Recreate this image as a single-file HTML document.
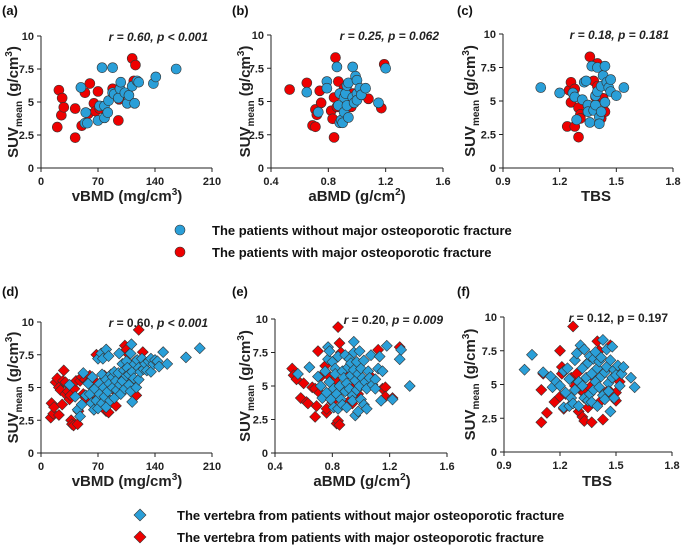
<!DOCTYPE html>
<html><head><meta charset="utf-8"><style>
html,body{margin:0;padding:0;background:#fff;}
svg{display:block;font-family:"Liberation Sans",Arial,sans-serif;}
</style></head><body>
<svg id="chart" width="685" height="547" viewBox="0 0 685 547" xmlns="http://www.w3.org/2000/svg">
<g>
 <circle cx="180" cy="230" r="5" fill="#2a9fd8" stroke="#333" stroke-width="0.6"/>
 <text x="212" y="235" font-size="13" font-weight="bold" fill="#111">The patients without major osteoporotic fracture</text>
 <circle cx="180" cy="252" r="5" fill="#ee0000" stroke="#333" stroke-width="0.6"/>
 <text x="212" y="257" font-size="13" font-weight="bold" fill="#111">The patients with major osteoporotic fracture</text>
</g>
<g>
 <path d="M140 509 L146 515 L140 521 L134 515 Z" fill="#2a9fd8" stroke="#333" stroke-width="0.6"/>
 <text x="177" y="520" font-size="13" font-weight="bold" fill="#111">The vertebra from patients without major osteoporotic fracture</text>
 <path d="M140 531 L146 537 L140 543 L134 537 Z" fill="#ee0000" stroke="#333" stroke-width="0.6"/>
 <text x="177" y="542" font-size="13" font-weight="bold" fill="#111">The vertebra from patients with major osteoporotic fracture</text>
</g>
</svg>
<script>
// ---- data (x, y pairs) ----
const aRedX=[20,22,25,26,28,42,42,50,54,58,60,65,67,70,72,88,95,96,112,114,116];
const aRedY=[3.1,5.9,4.0,5.3,4.6,4.5,2.3,3.2,5.7,4.1,6.4,4.9,4.3,5.8,4.5,6.0,3.6,5.2,8.3,6.6,7.8];
const aBlueX=[49,54,55,57,70,72,75,78,78,82,83,88,88,90,95,97,98,103,106,108,112,115,118,120,138,141,166];
const aBlueY=[6.1,3.4,4.2,3.4,3.6,4.7,7.6,4.7,3.8,4.2,5.1,5.7,7.6,5.6,5.3,6.0,6.5,5.7,4.9,5.5,6.2,4.9,6.6,6.5,6.4,6.9,7.5];

const bRedX=[0.53,0.65,0.69,0.71,0.71,0.72,0.74,0.75,0.82,0.83,0.84,0.84,0.85,0.86,0.87,0.89,0.91,0.96,0.97,1.08,1.17,1.19];
const bRedY=[5.9,6.4,3.2,3.1,4.4,4.0,5.8,4.9,4.3,3.7,5.3,2.3,8.3,4.6,6.5,3.6,6.0,4.6,5.6,5.2,4.5,7.8];
const bBlueX=[0.65,0.73,0.79,0.79,0.86,0.87,0.88,0.88,0.89,0.90,0.91,0.91,0.92,0.93,0.93,0.94,0.94,0.97,0.97,0.98,0.99,1.00,1.00,1.00,1.02,1.03,1.06,1.15,1.20];
const bBlueY=[5.7,4.2,6.5,6.0,7.6,4.7,5.6,3.4,3.6,3.4,4.2,5.3,5.6,6.2,4.7,3.8,6.4,7.6,5.3,4.9,6.9,6.6,5.6,5.1,6.0,5.5,6.0,4.9,7.5];

const cRedX=[1.24,1.25,1.26,1.26,1.27,1.28,1.28,1.30,1.30,1.31,1.31,1.36,1.38,1.38,1.39,1.40,1.40,1.42,1.43,1.44];
const cRedY=[3.1,5.8,6.4,4.9,5.6,5.9,3.1,4.5,2.3,4.0,3.7,8.3,6.5,4.6,5.3,7.8,6.1,3.7,5.2,4.2];
const cBlueX=[1.10,1.20,1.27,1.28,1.29,1.32,1.33,1.34,1.35,1.35,1.36,1.37,1.38,1.39,1.39,1.40,1.40,1.41,1.41,1.42,1.42,1.43,1.44,1.44,1.45,1.46,1.47,1.47,1.50,1.54];
const cBlueY=[6.0,5.6,5.6,5.3,3.6,5.1,6.4,6.5,4.7,4.2,3.4,7.6,4.3,4.7,5.4,7.5,5.7,3.8,3.3,4.2,6.1,6.9,7.6,4.9,6.4,6.0,6.6,5.7,5.4,6.0];

const dRedX=[12,13,15,16,18,20,22,22,24,26,27,28,30,30,33,35,36,37,38,40,41,43,45,46,48,50,52,54,55,58,60,62,65,66,68,70,72,75,78,80,83,88,92,95,103,104,105,108,116,117,120,125];
const dRedY=[2.7,3.8,3.0,3.5,5.4,5.7,2.9,5.0,4.8,3.7,5.5,6.3,4.5,5.4,4.7,4.1,4.4,2.5,2.2,2.1,4.9,5.5,2.2,3.2,5.5,5.8,4.5,5.6,4.2,5.4,5.9,4.0,4.8,5.5,7.5,4.2,3.7,5.1,5.9,3.2,3.1,4.9,3.6,5.6,8.2,5.0,7.9,7.5,7.0,4.4,9.4,7.7];
const dBlueX=[35,42,45,48,50,52,55,58,60,62,63,65,66,68,70,70,72,72,74,75,75,76,77,78,80,80,80,82,83,84,85,86,88,88,90,90,92,93,95,96,97,98,100,100,102,103,105,105,106,108,108,110,110,111,112,112,114,115,117,118,120,120,122,124,126,128,130,132,135,135,138,140,143,145,150,155,178,195];
const dBlueY=[5.2,4.3,3.3,2.8,3.7,6.1,4.4,5.3,4.5,3.8,5.8,3.3,4.9,4.0,7.2,3.4,4.5,5.3,7.6,3.8,6.0,7.2,5.0,4.3,7.9,5.6,3.5,4.7,7.4,5.3,4.0,6.0,5.0,5.8,4.2,6.2,5.5,4.8,6.1,7.6,5.2,4.5,6.8,5.5,6.3,4.9,7.0,5.9,6.5,5.2,6.0,7.6,4.7,8.3,6.2,3.9,5.7,6.8,5.0,7.1,6.5,5.6,6.2,7.2,6.4,6.8,6.3,7.0,6.2,7.2,6.8,7.1,7.0,6.6,7.7,6.8,7.3,8.0];

const eRedX=[0.52,0.53,0.55,0.58,0.60,0.62,0.63,0.66,0.68,0.68,0.69,0.70,0.71,0.72,0.74,0.75,0.76,0.76,0.77,0.79,0.80,0.82,0.83,0.84,0.84,0.85,0.85,0.86,0.88,0.90,0.92,0.94,0.95,0.98,1.00,1.08,1.12,1.15,1.17,1.17,1.22,1.27];
const eRedY=[6.3,5.8,5.5,4.1,5.2,3.8,3.7,4.9,4.8,2.7,3.5,7.6,4.5,5.7,4.2,6.5,3.0,3.3,5.8,4.4,3.8,5.5,2.2,2.4,9.4,8.2,2.1,7.5,4.7,6.0,3.9,3.7,5.1,4.4,5.3,5.6,7.7,4.8,4.9,4.2,4.1,7.9];
const eBlueX=[0.56,0.64,0.70,0.72,0.73,0.75,0.76,0.77,0.77,0.78,0.78,0.79,0.80,0.81,0.81,0.82,0.82,0.83,0.84,0.84,0.85,0.86,0.87,0.87,0.88,0.89,0.89,0.90,0.90,0.91,0.92,0.92,0.93,0.93,0.94,0.94,0.95,0.95,0.95,0.96,0.96,0.97,0.97,0.98,0.98,0.99,0.99,1.00,1.00,1.01,1.02,1.02,1.03,1.04,1.04,1.05,1.06,1.07,1.08,1.10,1.10,1.12,1.13,1.14,1.15,1.18,1.22,1.27,1.28,1.34];
const eBlueY=[5.9,6.4,5.7,5.0,4.1,6.1,4.5,7.9,7.0,7.6,5.3,4.0,6.8,4.8,3.4,6.3,5.9,4.4,3.3,7.2,5.0,4.0,3.6,6.1,5.6,4.6,7.3,3.4,5.2,6.4,4.8,7.0,5.8,6.7,4.3,3.9,8.3,7.5,6.2,5.4,2.8,4.7,6.8,5.9,3.1,7.6,5.0,6.3,4.0,5.6,3.6,6.9,5.3,3.3,4.8,6.1,5.6,7.3,5.1,5.5,4.8,6.3,7.2,3.9,6.1,8.0,4.0,7.0,7.7,5.0];

const fRedX=[1.10,1.10,1.11,1.13,1.17,1.20,1.20,1.21,1.21,1.22,1.23,1.26,1.27,1.28,1.29,1.30,1.31,1.32,1.33,1.33,1.34,1.35,1.36,1.37,1.38,1.40,1.41,1.42,1.43,1.44,1.46,1.47,1.48,1.50,1.50,1.52];
const fRedY=[2.2,4.6,5.8,2.9,3.7,7.5,4.1,5.8,6.3,3.2,4.3,5.5,9.3,4.9,5.8,3.0,4.6,2.6,2.3,4.4,6.5,3.3,4.8,2.2,5.5,8.2,7.5,3.8,2.4,6.0,4.6,7.9,4.2,4.4,3.8,5.2];
const fBlueX=[1.01,1.05,1.11,1.15,1.16,1.18,1.20,1.22,1.22,1.23,1.24,1.25,1.25,1.26,1.27,1.28,1.28,1.29,1.30,1.30,1.31,1.32,1.32,1.33,1.33,1.34,1.35,1.35,1.36,1.36,1.37,1.37,1.38,1.38,1.39,1.39,1.40,1.40,1.41,1.41,1.42,1.42,1.43,1.43,1.44,1.44,1.45,1.45,1.46,1.46,1.47,1.47,1.48,1.48,1.49,1.49,1.50,1.51,1.52,1.53,1.54,1.58,1.60];
const fBlueY=[6.1,7.2,5.9,5.6,4.8,5.2,4.9,3.3,6.0,4.4,6.2,3.4,5.4,4.0,3.6,6.8,4.6,7.3,3.4,5.2,7.9,4.9,6.2,4.0,7.6,5.5,3.8,6.6,4.3,7.1,5.8,3.7,6.9,4.6,7.4,5.2,6.2,3.4,4.8,6.7,5.6,7.0,8.3,4.2,5.9,3.9,7.6,6.3,5.1,4.5,3.0,6.8,5.5,7.8,6.1,4.0,5.7,6.4,4.9,5.8,6.3,5.5,4.8];

const yTicks=[0,2.5,5,7.5,10];
const yTickLabels=["0","2.5","5","7.5","10"];
const vbmdTicks=[0,70,140,210];
const abmdTicks=[0.4,0.8,1.2,1.6];
const abmdTickLabels=["0.4","0.8","1.2","1.6"];
const tbsTicks=[0.9,1.2,1.5,1.8];
const tbsTickLabels=["0.9","1.2","1.5","1.8"];

const NS="http://www.w3.org/2000/svg";
const svg=document.getElementById('chart');
function mk(tag,attrs,parent){const e=document.createElementNS(NS,tag);for(const k in attrs)e.setAttribute(k,attrs[k]);(parent||svg).appendChild(e);return e;}

const panels=[
 {id:'a',label:'(a)',lx:2,ly:15,px0:41,px1:212,py0:36,py1:168,xmin:0,xmax:210,ticks:vbmdTicks,tl:vbmdTicks.map(String),xt:'vBMD',xtx:127,xty:201,ytx:12,unit:'(mg/cm',sq:true,shape:'c',rx:aRedX,ry:aRedY,bx:aBlueX,by:aBlueY,ann:[['r = 0.60, p < 0.001',true]]},
 {id:'b',label:'(b)',lx:232,ly:15,px0:271,px1:443,py0:35,py1:168,xmin:0.4,xmax:1.6,ticks:abmdTicks,tl:abmdTickLabels,xt:'aBMD',xtx:357,xty:201,ytx:244,unit:'(g/cm',sq:false,shape:'c',rx:bRedX,ry:bRedY,bx:bBlueX,by:bBlueY,ann:[['r = 0.25, p = 0.062',true]]},
 {id:'c',label:'(c)',lx:457,ly:15,px0:503,px1:673,py0:34,py1:168,xmin:0.9,xmax:1.8,ticks:tbsTicks,tl:tbsTickLabels,xt:'TBS',xtx:596,xty:201,ytx:469,unit:null,shape:'c',rx:cRedX,ry:cRedY,bx:cBlueX,by:cBlueY,ann:[['r = 0.18, p = 0.181',true]]},
 {id:'d',label:'(d)',lx:2,ly:296,px0:41,px1:212,py0:322,py1:453,xmin:0,xmax:210,ticks:vbmdTicks,tl:vbmdTicks.map(String),xt:'vBMD',xtx:127,xty:486,ytx:12,unit:'(mg/cm',sq:true,shape:'d',rx:dRedX,ry:dRedY,bx:dBlueX,by:dBlueY,ann:[['r',true],[' = 0.60, ',false],['p',true],[' < 0.001',true]]},
 {id:'e',label:'(e)',lx:232,ly:296,px0:275,px1:447,py0:319,py1:453,xmin:0.4,xmax:1.6,ticks:abmdTicks,tl:abmdTickLabels,xt:'aBMD',xtx:362,xty:486,ytx:244,unit:'(g/cm',sq:false,shape:'d',rx:eRedX,ry:eRedY,bx:eBlueX,by:eBlueY,ann:[['r',true],[' = 0.20, ',false],['p',true],[' = ',false],['0.009',true]]},
 {id:'f',label:'(f)',lx:457,ly:296,px0:504,px1:672,py0:317,py1:452,xmin:0.9,xmax:1.8,ticks:tbsTicks,tl:tbsTickLabels,xt:'TBS',xtx:597,xty:486,ytx:469,unit:null,shape:'d',rx:fRedX,ry:fRedY,bx:fBlueX,by:fBlueY,ann:[['r',true],[' = 0.12, p = 0.197',false]]}
];

panels.forEach(p=>{
 const g=mk('g',{});
 
 
 const X=v=>p.px0+(v-p.xmin)/(p.xmax-p.xmin)*(p.px1-p.px0);
 const Y=v=>p.py1-(v/10)*(p.py1-p.py0);
 const t=mk('text',{x:p.lx,y:p.ly,'font-size':13,'font-weight':'bold',fill:'#111'},g);t.textContent=p.label;
 
 
 const ax=mk('path',{d:`M${p.px0} ${p.py0} L${p.px0} ${p.py1} L${p.px1} ${p.py1}`,fill:'none',stroke:'#222','stroke-width':1},g);
 
 
 yTicks.forEach((v,i)=>{
  mk('line',{x1:p.px0-4,x2:p.px0,y1:Y(v),y2:Y(v),stroke:'#222'},g);
  const l=mk('text',{x:p.px0-7,y:Y(v)+4,'text-anchor':'end','font-size':11,'font-weight':'bold',fill:'#222'},g);l.textContent=yTickLabels[i];
  
  
 });
 p.ticks.forEach((v,i)=>{
  mk('line',{x1:X(v),x2:X(v),y1:p.py1,y2:p.py1+4,stroke:'#222'},g);
  const l=mk('text',{x:X(v),y:p.py1+17,'text-anchor':'middle','font-size':11,'font-weight':'bold',fill:'#222'},g);l.textContent=p.tl[i];
  
  
 });
 const xt=mk('text',{x:p.xtx,y:p.xty,'text-anchor':'middle','font-size':15,'font-weight':'bold',fill:'#222'},g);
 
 
 if(p.unit){xt.innerHTML=p.xt+' '+p.unit+'<tspan font-size="10" dy="-6">'+(p.sq?'3':'2')+'</tspan><tspan dy="6">)</tspan>';}
 else xt.textContent=p.xt;
 const cy=(p.py0+p.py1)/2;
 const yt=mk('text',{x:0,y:0,'text-anchor':'middle','font-size':15,'font-weight':'bold',fill:'#222',transform:`translate(${p.ytx+6},${cy}) rotate(-90)`},g);
 
 
 yt.innerHTML='SUV<tspan font-size="10" dy="4">mean</tspan><tspan dy="-4"> (g/cm</tspan><tspan font-size="10" dy="-6">3</tspan><tspan dy="6">)</tspan>';
 const an=mk('text',{x:p.px1-4,y:p.py0+5,'text-anchor':'end','font-size':12,'font-weight':'bold',fill:'#222'},g);
 
 
 p.ann.forEach(s=>{const ts=mk('tspan',{'font-style':s[1]?'italic':'normal'},an);ts.textContent=s[0];});
 const draw=(xs,ys,col,nm)=>{
  xs.forEach((xv,i)=>{
   const cx=X(xv),cyy=Y(ys[i]);let e;
   if(p.shape==='c') e=mk('circle',{cx:cx,cy:cyy,r:5,fill:col,stroke:'#333','stroke-width':0.6},g);
   else e=mk('path',{d:`M${cx} ${cyy-5.5} L${cx+5.5} ${cyy} L${cx} ${cyy+5.5} L${cx-5.5} ${cyy} Z`,fill:col,stroke:'#333','stroke-width':0.6},g);
   
   
  });
 };
 draw(p.rx,p.ry,'#ee0000','point-fracture');
 draw(p.bx,p.by,'#2a9fd8','point-no-fracture');
});
</script>
</body></html>
